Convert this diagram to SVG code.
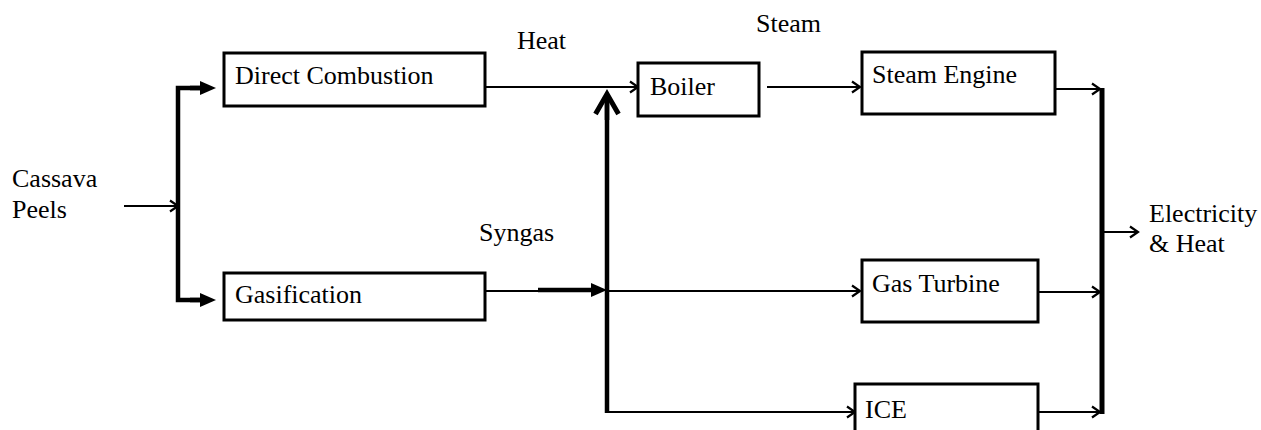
<svg xmlns="http://www.w3.org/2000/svg" width="1261" height="430" viewBox="0 0 1261 430">
<style>
text{font-family:"Liberation Serif","Times New Roman",serif;font-size:26px;fill:#000}
.box{fill:#fff;stroke:#000;stroke-width:3}
.thin{fill:none;stroke:#000;stroke-width:2}
.thick{fill:none;stroke:#000;stroke-width:4.5}
</style>
<defs>
<marker id="open" markerUnits="userSpaceOnUse" markerWidth="12" markerHeight="14" refX="9" refY="6" orient="auto" overflow="visible">
<path d="M1,0.5 L9,6 L1,11.5" fill="none" stroke="#000" stroke-width="2.2"/>
</marker>
<marker id="solid" markerUnits="userSpaceOnUse" markerWidth="18" markerHeight="16" refX="8" refY="7" orient="auto" overflow="visible">
<path d="M0,0 L16,7 L0,14 Z" fill="#000"/>
</marker>
<marker id="bigopen" markerUnits="userSpaceOnUse" markerWidth="24" markerHeight="26" refX="2" refY="11" orient="auto" overflow="visible">
<path d="M-18,-0.5 L2,11 L-18,22.5" fill="none" stroke="#000" stroke-width="5"/>
</marker>
</defs>
<g id="connectors">
<line class="thin" x1="124" y1="206" x2="178" y2="206" marker-end="url(#open)"/>
<path class="thick" d="M208,88 L178,88 L178,300 L208,300"/>
<line class="thick" x1="190" y1="88" x2="208" y2="88" marker-end="url(#solid)"/>
<line class="thick" x1="190" y1="300" x2="208" y2="300" marker-end="url(#solid)"/>
<line class="thin" x1="485" y1="87" x2="638" y2="87" marker-end="url(#open)"/>
<line class="thin" x1="767" y1="87" x2="860" y2="87" marker-end="url(#open)"/>
<line class="thin" x1="485" y1="291" x2="540" y2="291"/>
<line class="thick" x1="538" y1="290" x2="599" y2="290" marker-end="url(#solid)"/>
<line class="thin" x1="607" y1="291" x2="860" y2="291" marker-end="url(#open)"/>
<path class="thick" d="M607,413 L607,94"/>
<line class="thick" x1="607" y1="120" x2="607" y2="94" marker-end="url(#bigopen)"/>
<line class="thin" x1="607" y1="412" x2="855" y2="412" marker-end="url(#open)"/>
<line class="thin" x1="1055" y1="89" x2="1100" y2="89" marker-end="url(#open)"/>
<line class="thin" x1="1038" y1="292" x2="1100" y2="292" marker-end="url(#open)"/>
<line class="thin" x1="1038" y1="412" x2="1100" y2="412" marker-end="url(#open)"/>
<line x1="1102" y1="88" x2="1102" y2="414" stroke="#000" stroke-width="5"/>
<line class="thin" x1="1104" y1="232" x2="1138" y2="232" marker-end="url(#open)"/>
</g>
<g id="labels">
<text x="12" y="187">Cassava</text>
<text x="12" y="218">Peels</text>
<text x="517" y="49">Heat</text>
<text x="756" y="32">Steam</text>
<text x="479" y="241">Syngas</text>
<text x="1149" y="222">Electricity</text>
<text x="1149" y="252">&amp; Heat</text>
</g>
<g id="direct-combustion">
<rect class="box" x="224" y="53" width="261" height="53"/>
<text x="235" y="84">Direct Combustion</text>
</g>
<g id="gasification">
<rect class="box" x="224" y="273" width="261" height="47"/>
<text x="235" y="303">Gasification</text>
</g>
<g id="boiler">
<rect class="box" x="638" y="63" width="121" height="53"/>
<text x="650" y="95">Boiler</text>
</g>
<g id="steam-engine">
<rect class="box" x="862" y="52" width="193" height="62"/>
<text x="872" y="83">Steam Engine</text>
</g>
<g id="gas-turbine">
<rect class="box" x="862" y="260" width="176" height="62"/>
<text x="872" y="292">Gas Turbine</text>
</g>
<g id="ice">
<rect class="box" x="855" y="384" width="183" height="60"/>
<text x="865" y="418">ICE</text>
</g>
</svg>
